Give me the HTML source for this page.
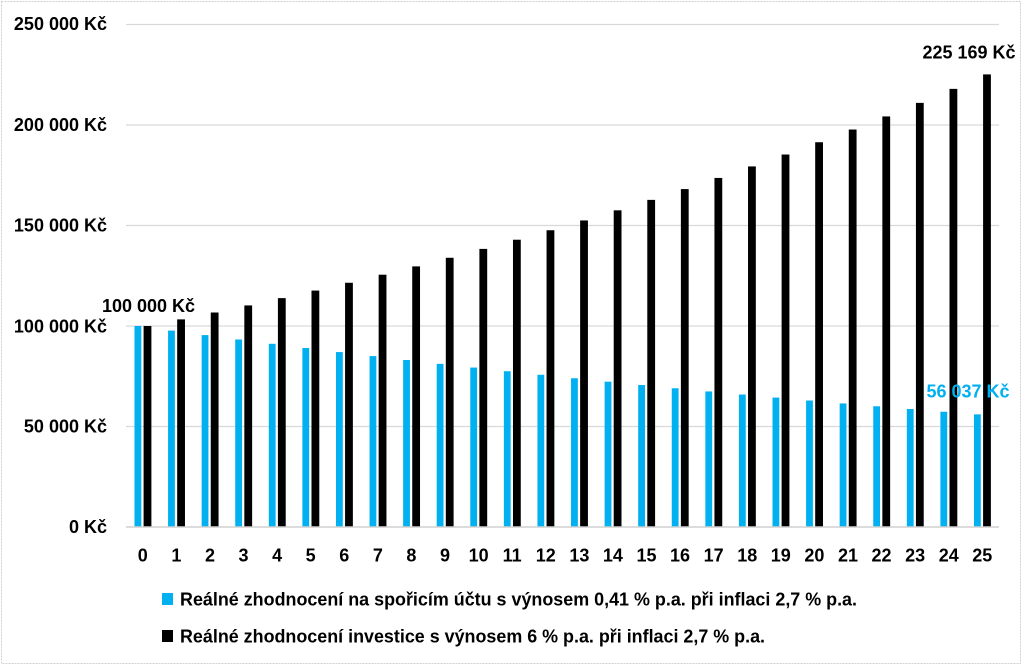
<!DOCTYPE html>
<html><head><meta charset="utf-8"><style>
html,body{margin:0;padding:0;background:#fff;}
svg{display:block;}
text{font-family:"Liberation Sans",Arial,sans-serif;font-weight:bold;font-size:18px;fill:#000;}
</style></head><body>
<svg width="1023" height="666" viewBox="0 0 1023 666" xmlns="http://www.w3.org/2000/svg">
<rect x="0" y="0" width="1023" height="666" fill="#fff"/>
<rect x="1.5" y="1.5" width="1019" height="662" fill="none" stroke="#d0d0d0" stroke-width="1" stroke-dasharray="2,1"/>
<g stroke="#d9d9d9" stroke-width="1.2">
<line x1="126" y1="24.5" x2="999" y2="24.5"/>
<line x1="126" y1="125" x2="999" y2="125"/>
<line x1="126" y1="225.5" x2="999" y2="225.5"/>
<line x1="126" y1="326" x2="999" y2="326"/>
<line x1="126" y1="426.5" x2="999" y2="426.5"/>
</g>
<g text-anchor="end">
<text x="107" y="30">250 000 Kč</text>
<text x="107" y="131">200 000 Kč</text>
<text x="107" y="231.5">150 000 Kč</text>
<text x="107" y="332.5">100 000 Kč</text>
<text x="107" y="432.5">50 000 Kč</text>
<text x="107" y="533">0 Kč</text>
</g>
<g fill="#00b0f0">
<rect x="134.49" y="326.00" width="6.8" height="201.00"/>
<rect x="168.07" y="330.60" width="6.8" height="196.40"/>
<rect x="201.65" y="335.10" width="6.8" height="191.90"/>
<rect x="235.23" y="339.49" width="6.8" height="187.51"/>
<rect x="268.81" y="343.79" width="6.8" height="183.21"/>
<rect x="302.39" y="347.98" width="6.8" height="179.02"/>
<rect x="335.97" y="352.08" width="6.8" height="174.92"/>
<rect x="369.55" y="356.09" width="6.8" height="170.91"/>
<rect x="403.13" y="360.00" width="6.8" height="167.00"/>
<rect x="436.71" y="363.83" width="6.8" height="163.17"/>
<rect x="470.29" y="367.56" width="6.8" height="159.44"/>
<rect x="503.87" y="371.22" width="6.8" height="155.78"/>
<rect x="537.45" y="374.78" width="6.8" height="152.22"/>
<rect x="571.03" y="378.27" width="6.8" height="148.73"/>
<rect x="604.61" y="381.67" width="6.8" height="145.33"/>
<rect x="638.19" y="385.00" width="6.8" height="142.00"/>
<rect x="671.77" y="388.25" width="6.8" height="138.75"/>
<rect x="705.35" y="391.43" width="6.8" height="135.57"/>
<rect x="738.93" y="394.54" width="6.8" height="132.46"/>
<rect x="772.51" y="397.57" width="6.8" height="129.43"/>
<rect x="806.09" y="400.53" width="6.8" height="126.47"/>
<rect x="839.67" y="403.43" width="6.8" height="123.57"/>
<rect x="873.25" y="406.26" width="6.8" height="120.74"/>
<rect x="906.83" y="409.02" width="6.8" height="117.98"/>
<rect x="940.41" y="411.73" width="6.8" height="115.27"/>
<rect x="973.99" y="414.37" width="6.8" height="112.63"/>
</g>
<g fill="#000">
<rect x="143.59" y="326.00" width="7.8" height="201.00"/>
<rect x="177.17" y="319.37" width="7.8" height="207.63"/>
<rect x="210.75" y="312.51" width="7.8" height="214.49"/>
<rect x="244.33" y="305.44" width="7.8" height="221.56"/>
<rect x="277.91" y="298.13" width="7.8" height="228.87"/>
<rect x="311.49" y="290.57" width="7.8" height="236.43"/>
<rect x="345.07" y="282.77" width="7.8" height="244.23"/>
<rect x="378.65" y="274.71" width="7.8" height="252.29"/>
<rect x="412.23" y="266.39" width="7.8" height="260.61"/>
<rect x="445.81" y="257.78" width="7.8" height="269.22"/>
<rect x="479.39" y="248.90" width="7.8" height="278.10"/>
<rect x="512.97" y="239.72" width="7.8" height="287.28"/>
<rect x="546.55" y="230.24" width="7.8" height="296.76"/>
<rect x="580.13" y="220.45" width="7.8" height="306.55"/>
<rect x="613.71" y="210.33" width="7.8" height="316.67"/>
<rect x="647.29" y="199.88" width="7.8" height="327.12"/>
<rect x="680.87" y="189.09" width="7.8" height="337.91"/>
<rect x="714.45" y="177.94" width="7.8" height="349.06"/>
<rect x="748.03" y="166.42" width="7.8" height="360.58"/>
<rect x="781.61" y="154.52" width="7.8" height="372.48"/>
<rect x="815.19" y="142.23" width="7.8" height="384.77"/>
<rect x="848.77" y="129.53" width="7.8" height="397.47"/>
<rect x="882.35" y="116.42" width="7.8" height="410.58"/>
<rect x="915.93" y="102.87" width="7.8" height="424.13"/>
<rect x="949.51" y="88.87" width="7.8" height="438.13"/>
<rect x="983.09" y="74.41" width="7.8" height="452.59"/>
</g>
<line x1="126" y1="527" x2="999" y2="527" stroke="#d0d0d0" stroke-width="1.4"/>
<g text-anchor="middle">
<text x="142.79" y="561.5">0</text>
<text x="176.37" y="561.5">1</text>
<text x="209.95" y="561.5">2</text>
<text x="243.53" y="561.5">3</text>
<text x="277.11" y="561.5">4</text>
<text x="310.69" y="561.5">5</text>
<text x="344.27" y="561.5">6</text>
<text x="377.85" y="561.5">7</text>
<text x="411.43" y="561.5">8</text>
<text x="445.01" y="561.5">9</text>
<text x="478.59" y="561.5">10</text>
<text x="512.17" y="561.5">11</text>
<text x="545.75" y="561.5">12</text>
<text x="579.33" y="561.5">13</text>
<text x="612.91" y="561.5">14</text>
<text x="646.49" y="561.5">15</text>
<text x="680.07" y="561.5">16</text>
<text x="713.65" y="561.5">17</text>
<text x="747.23" y="561.5">18</text>
<text x="780.81" y="561.5">19</text>
<text x="814.39" y="561.5">20</text>
<text x="847.97" y="561.5">21</text>
<text x="881.55" y="561.5">22</text>
<text x="915.13" y="561.5">23</text>
<text x="948.71" y="561.5">24</text>
<text x="982.29" y="561.5">25</text>
<text x="148.5" y="312">100 000 Kč</text>
<text x="969" y="58.5">225 169 Kč</text>
<text x="968" y="397.5" style="fill:#00b0f0">56 037 Kč</text>
</g>
<rect x="162" y="593" width="11" height="12" fill="#00b0f0"/>
<text x="180" y="605.5" textLength="677" lengthAdjust="spacingAndGlyphs">Reálné zhodnocení na spořicím účtu s výnosem 0,41 % p.a. při inflaci 2,7 % p.a.</text>
<rect x="162" y="630" width="11" height="12" fill="#000"/>
<text x="180" y="642.5" textLength="585" lengthAdjust="spacingAndGlyphs">Reálné zhodnocení investice s výnosem 6 % p.a. při inflaci 2,7 % p.a.</text>
</svg>
</body></html>
